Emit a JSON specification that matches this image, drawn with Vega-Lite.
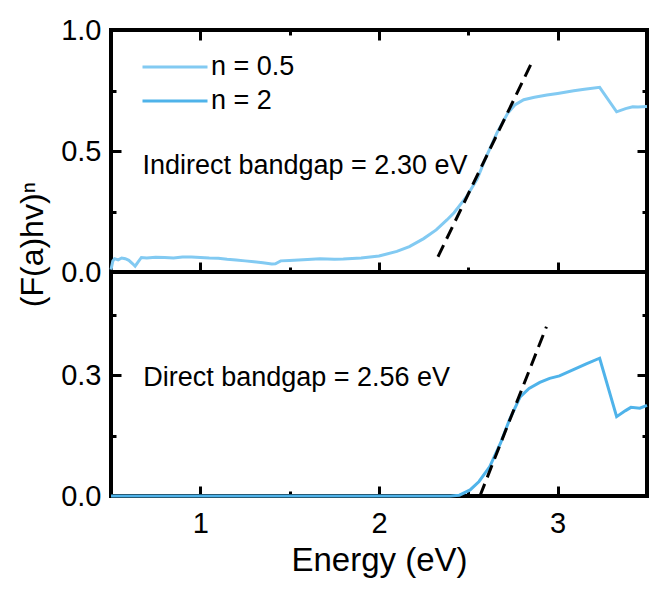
{
  "$schema": "https://vega.github.io/schema/vega-lite/v6.json",
  "padding": {"left": 14, "top": 14, "right": 5, "bottom": 5},
  "background": "white",
  "config": {
    "font": "Liberation Sans",
    "view": {"stroke": "black", "strokeWidth": 4},
    "axis": {
      "domain": false, "grid": false, "tickColor": "black", "tickWidth": 3,
      "labelColor": "black", "labelFontSize": 29, "labelFont": "Liberation Sans",
      "titleFont": "Liberation Sans", "titleFontWeight": "normal", "titleColor": "black"
    },
    "legend": {"labelFont": "Liberation Sans"}
  },
  "spacing": 0,
  "bounds": "flush",
  "datasets": {
    "top": [
      {"energy": 0.50, "value": 0.010, "series": "n = 0.5"},
      {"energy": 0.51, "value": 0.045, "series": "n = 0.5"},
      {"energy": 0.52, "value": 0.055, "series": "n = 0.5"},
      {"energy": 0.54, "value": 0.050, "series": "n = 0.5"},
      {"energy": 0.56, "value": 0.058, "series": "n = 0.5"},
      {"energy": 0.58, "value": 0.055, "series": "n = 0.5"},
      {"energy": 0.60, "value": 0.048, "series": "n = 0.5"},
      {"energy": 0.62, "value": 0.035, "series": "n = 0.5"},
      {"energy": 0.635, "value": 0.024, "series": "n = 0.5"},
      {"energy": 0.65, "value": 0.040, "series": "n = 0.5"},
      {"energy": 0.67, "value": 0.060, "series": "n = 0.5"},
      {"energy": 0.70, "value": 0.058, "series": "n = 0.5"},
      {"energy": 0.75, "value": 0.061, "series": "n = 0.5"},
      {"energy": 0.80, "value": 0.060, "series": "n = 0.5"},
      {"energy": 0.85, "value": 0.058, "series": "n = 0.5"},
      {"energy": 0.90, "value": 0.062, "series": "n = 0.5"},
      {"energy": 0.95, "value": 0.062, "series": "n = 0.5"},
      {"energy": 1.00, "value": 0.060, "series": "n = 0.5"},
      {"energy": 1.05, "value": 0.058, "series": "n = 0.5"},
      {"energy": 1.10, "value": 0.057, "series": "n = 0.5"},
      {"energy": 1.15, "value": 0.053, "series": "n = 0.5"},
      {"energy": 1.20, "value": 0.050, "series": "n = 0.5"},
      {"energy": 1.25, "value": 0.046, "series": "n = 0.5"},
      {"energy": 1.30, "value": 0.042, "series": "n = 0.5"},
      {"energy": 1.35, "value": 0.038, "series": "n = 0.5"},
      {"energy": 1.40, "value": 0.033, "series": "n = 0.5"},
      {"energy": 1.42, "value": 0.034, "series": "n = 0.5"},
      {"energy": 1.45, "value": 0.046, "series": "n = 0.5"},
      {"energy": 1.50, "value": 0.048, "series": "n = 0.5"},
      {"energy": 1.55, "value": 0.050, "series": "n = 0.5"},
      {"energy": 1.60, "value": 0.052, "series": "n = 0.5"},
      {"energy": 1.67, "value": 0.055, "series": "n = 0.5"},
      {"energy": 1.75, "value": 0.053, "series": "n = 0.5"},
      {"energy": 1.80, "value": 0.054, "series": "n = 0.5"},
      {"energy": 1.90, "value": 0.058, "series": "n = 0.5"},
      {"energy": 2.00, "value": 0.066, "series": "n = 0.5"},
      {"energy": 2.10, "value": 0.085, "series": "n = 0.5"},
      {"energy": 2.17, "value": 0.105, "series": "n = 0.5"},
      {"energy": 2.25, "value": 0.138, "series": "n = 0.5"},
      {"energy": 2.32, "value": 0.174, "series": "n = 0.5"},
      {"energy": 2.38, "value": 0.215, "series": "n = 0.5"},
      {"energy": 2.42, "value": 0.245, "series": "n = 0.5"},
      {"energy": 2.49, "value": 0.311, "series": "n = 0.5"},
      {"energy": 2.55, "value": 0.385, "series": "n = 0.5"},
      {"energy": 2.60, "value": 0.476, "series": "n = 0.5"},
      {"energy": 2.66, "value": 0.575, "series": "n = 0.5"},
      {"energy": 2.72, "value": 0.656, "series": "n = 0.5"},
      {"energy": 2.76, "value": 0.690, "series": "n = 0.5"},
      {"energy": 2.81, "value": 0.712, "series": "n = 0.5"},
      {"energy": 2.87, "value": 0.722, "series": "n = 0.5"},
      {"energy": 2.94, "value": 0.731, "series": "n = 0.5"},
      {"energy": 3.00, "value": 0.738, "series": "n = 0.5"},
      {"energy": 3.09, "value": 0.749, "series": "n = 0.5"},
      {"energy": 3.15, "value": 0.755, "series": "n = 0.5"},
      {"energy": 3.235, "value": 0.763, "series": "n = 0.5"},
      {"energy": 3.33, "value": 0.662, "series": "n = 0.5"},
      {"energy": 3.38, "value": 0.675, "series": "n = 0.5"},
      {"energy": 3.42, "value": 0.683, "series": "n = 0.5"},
      {"energy": 3.45, "value": 0.682, "series": "n = 0.5"},
      {"energy": 3.50, "value": 0.684, "series": "n = 0.5"}
    ],
    "bottom": [
      {"energy": 0.50, "value": 0.0, "series": "n = 2"},
      {"energy": 1.00, "value": 0.0, "series": "n = 2"},
      {"energy": 1.50, "value": 0.0, "series": "n = 2"},
      {"energy": 2.00, "value": 0.0, "series": "n = 2"},
      {"energy": 2.40, "value": 0.0, "series": "n = 2"},
      {"energy": 2.45, "value": 0.002, "series": "n = 2"},
      {"energy": 2.51, "value": 0.015, "series": "n = 2"},
      {"energy": 2.56, "value": 0.036, "series": "n = 2"},
      {"energy": 2.62, "value": 0.073, "series": "n = 2"},
      {"energy": 2.68, "value": 0.131, "series": "n = 2"},
      {"energy": 2.73, "value": 0.189, "series": "n = 2"},
      {"energy": 2.79, "value": 0.246, "series": "n = 2"},
      {"energy": 2.84, "value": 0.267, "series": "n = 2"},
      {"energy": 2.90, "value": 0.282, "series": "n = 2"},
      {"energy": 2.955, "value": 0.292, "series": "n = 2"},
      {"energy": 3.01, "value": 0.298, "series": "n = 2"},
      {"energy": 3.085, "value": 0.313, "series": "n = 2"},
      {"energy": 3.16, "value": 0.328, "series": "n = 2"},
      {"energy": 3.235, "value": 0.342, "series": "n = 2"},
      {"energy": 3.33, "value": 0.197, "series": "n = 2"},
      {"energy": 3.38, "value": 0.212, "series": "n = 2"},
      {"energy": 3.41, "value": 0.220, "series": "n = 2"},
      {"energy": 3.46, "value": 0.218, "series": "n = 2"},
      {"energy": 3.50, "value": 0.225, "series": "n = 2"}
    ],
    "fitTop": [
      {"energy": 2.33, "value": 0.063},
      {"energy": 2.862, "value": 0.876}
    ],
    "fitBottom": [
      {"energy": 2.565, "value": 0.0},
      {"energy": 2.937, "value": 0.42}
    ],
    "labels": [
      {"label": "Indirect bandgap = 2.30 eV"},
      {"label": "Direct bandgap = 2.56 eV"}
    ]
  },
  "vconcat": [
    {
      "width": 536,
      "height": 242,
      "layer": [
        {
          "data": {"name": "top"},
          "mark": {"type": "line", "strokeWidth": 3},
          "encoding": {
            "x": {"field": "energy", "type": "quantitative", "scale": {"domain": [0.5, 3.5], "nice": false},
              "axis": {"orient": "bottom", "values": [1, 1.5, 2, 2.5, 3], "labels": false, "title": null,
                "tickSize": {"condition": {"test": "datum.value == 1.5 || datum.value == 2.5", "value": -5}, "value": -10}}},
            "y": {"field": "value", "type": "quantitative", "scale": {"domain": [0, 1], "nice": false},
              "axis": {"orient": "left", "values": [0, 0.25, 0.5, 0.75, 1], "title": "(F(a)hv)ⁿ", "titleFontSize": 32,
                "titleX": -62, "titleY": 214, "labelPadding": 20,
                "labelExpr": "datum.value == 0.25 || datum.value == 0.75 ? '' : format(datum.value, '.1f')",
                "tickSize": {"condition": {"test": "datum.value == 0.25 || datum.value == 0.75", "value": -5}, "value": -10}}},
            "color": {"field": "series", "type": "nominal",
              "scale": {"domain": ["n = 0.5", "n = 2"], "range": ["#82caf2", "#4fb3ea"]},
              "legend": {"orient": "none", "legendX": 30, "legendY": 20, "title": null, "symbolType": "stroke",
                "symbolSize": 4225, "symbolStrokeWidth": 3, "labelFontSize": 27, "labelColor": "black",
                "labelOffset": 2, "clipHeight": 34, "rowPadding": 0}}
          }
        },
        {
          "data": {"name": "fitTop"},
          "mark": {"type": "line", "strokeDash": [13, 7], "strokeWidth": 3, "color": "black"},
          "encoding": {
            "x": {"field": "energy", "type": "quantitative",
              "axis": {"orient": "top", "values": [1, 1.5, 2, 2.5, 3], "labels": false, "title": null,
                "tickSize": {"condition": {"test": "datum.value == 1.5 || datum.value == 2.5", "value": -5}, "value": -10}}},
            "y": {"field": "value", "type": "quantitative",
              "axis": {"orient": "right", "values": [0, 0.25, 0.5, 0.75, 1], "labels": false, "title": null,
                "tickSize": {"condition": {"test": "datum.value == 0.25 || datum.value == 0.75", "value": -5}, "value": -10}}}
          }
        },
        {
          "data": {"name": "labels"},
          "transform": [{"filter": "datum.label == 'Indirect bandgap = 2.30 eV'"}],
          "mark": {"type": "text", "align": "left", "baseline": "middle", "fontSize": 27, "color": "black", "font": "Liberation Sans"},
          "encoding": {
            "x": {"datum": 0.676, "type": "quantitative", "axis": null},
            "y": {"datum": 0.438, "type": "quantitative", "axis": null},
            "text": {"field": "label"}
          }
        }
      ],
      "resolve": {"axis": {"x": "independent", "y": "independent"}}
    },
    {
      "width": 536,
      "height": 224,
      "layer": [
        {
          "data": {"name": "bottom"},
          "mark": {"type": "line", "strokeWidth": 3},
          "encoding": {
            "x": {"field": "energy", "type": "quantitative", "scale": {"domain": [0.5, 3.5], "nice": false},
              "axis": {"orient": "bottom", "values": [1, 1.5, 2, 2.5, 3], "title": "Energy (eV)", "titleFontSize": 33,
                "titlePadding": 6, "labelPadding": 23,
                "labelExpr": "datum.value == 1.5 || datum.value == 2.5 ? '' : format(datum.value, 'd')",
                "tickSize": {"condition": {"test": "datum.value == 1.5 || datum.value == 2.5", "value": -5}, "value": -10}}},
            "y": {"field": "value", "type": "quantitative", "scale": {"domain": [0, 0.556], "nice": false},
              "axis": {"orient": "left", "values": [0, 0.15, 0.3, 0.45], "title": null, "labelPadding": 20,
                "labelExpr": "datum.value == 0 || datum.value == 0.3 ? format(datum.value, '.1f') : ''",
                "tickSize": {"condition": {"test": "datum.value == 0.15 || datum.value == 0.45", "value": -5}, "value": -10}}},
            "color": {"field": "series", "type": "nominal",
              "scale": {"domain": ["n = 0.5", "n = 2"], "range": ["#82caf2", "#4fb3ea"]}}
          }
        },
        {
          "data": {"name": "fitBottom"},
          "mark": {"type": "line", "strokeDash": [13, 7], "strokeWidth": 3, "color": "black"},
          "encoding": {
            "x": {"field": "energy", "type": "quantitative", "axis": null},
            "y": {"field": "value", "type": "quantitative",
              "axis": {"orient": "right", "values": [0, 0.15, 0.3, 0.45], "labels": false, "title": null,
                "tickSize": {"condition": {"test": "datum.value == 0.15 || datum.value == 0.45", "value": -5}, "value": -10}}}
          }
        },
        {
          "data": {"name": "labels"},
          "transform": [{"filter": "datum.label == 'Direct bandgap = 2.56 eV'"}],
          "mark": {"type": "text", "align": "left", "baseline": "middle", "fontSize": 27, "color": "black", "font": "Liberation Sans"},
          "encoding": {
            "x": {"datum": 0.68, "type": "quantitative", "axis": null},
            "y": {"datum": 0.293, "type": "quantitative", "axis": null},
            "text": {"field": "label"}
          }
        }
      ],
      "resolve": {"axis": {"x": "independent", "y": "independent"}}
    }
  ]
}
